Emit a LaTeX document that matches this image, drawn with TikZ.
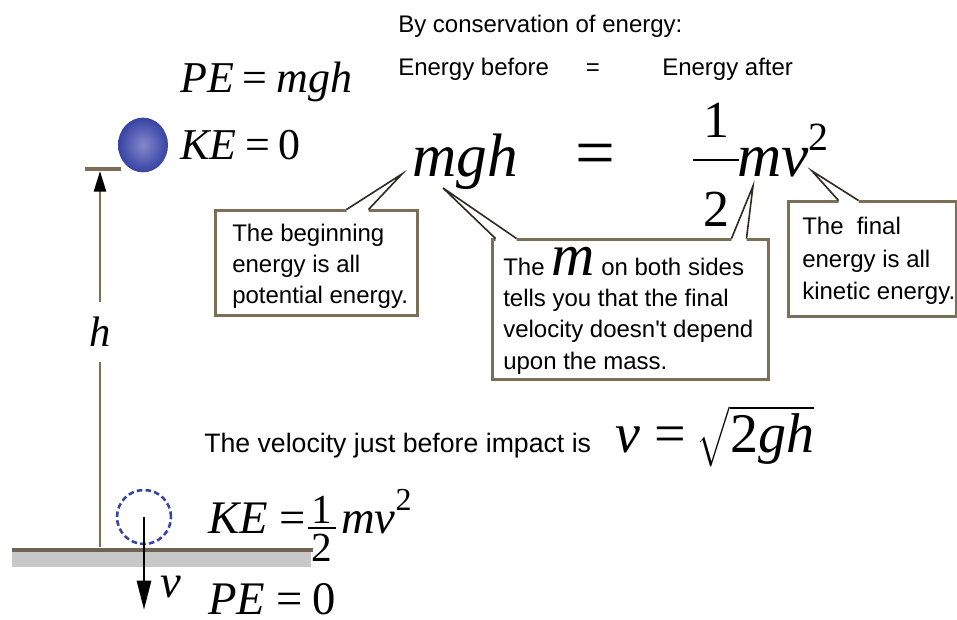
\documentclass[tikz,border=0pt]{standalone}
\usepackage{fontspec}
\usepackage{amsmath}
\setmainfont{Liberation Serif}
\newfontfamily\arial{Liberation Sans}
\usetikzlibrary{arrows.meta,calc,shapes.geometric}
\definecolor{edge}{HTML}{7B6F58}
\definecolor{grounddark}{HTML}{6E6452}
\definecolor{ballblue}{HTML}{3743A3}
\definecolor{balllight}{HTML}{8488CC}
\definecolor{groundgray}{HTML}{C8C8C8}
\definecolor{calline}{HTML}{2E2A22}
\newcommand\fsz[1]{\fontsize{#1}{#1}\selectfont}
\begin{document}
\begin{tikzpicture}[x=0.75pt,y=-0.75pt,
  lbl/.style={anchor=base west, inner sep=0, font=\arial\fsz{18}},
  bigl/.style={anchor=base west, inner sep=0, font=\arial\fsz{20}},
  eqn/.style={anchor=base west, inner sep=0, font=\fsz{33}},
  eqnb/.style={anchor=base west, inner sep=0, font=\fsz{35}},
  huge/.style={anchor=base west, inner sep=0, font=\fsz{46}},
  digit/.style={anchor=base, inner sep=0},
  fracbar/.style={draw=black, line width=1.8pt},
  boxnode/.style={draw=edge, line width=2.25pt, inner sep=0, fill=white, rectangle},
  callout/.style={draw=calline, line width=1.2pt, line join=miter},
  hline/.style={draw=edge, line width=1.9pt}]
\useasboundingbox (0,0) rectangle (957,620);
\fill[white] (0,0) rectangle (957,620);

% header texts
\node[lbl] (title) at (398,33) {By conservation of energy:};
\node[lbl] (ebefore) at (398,76) {Energy before};
\node[lbl, anchor=base] (eeq) at (593,76) {=};
\node[lbl] (eafter) at (662,76) {Energy after};

% top equations
\node[eqn] (pe1) at (180,93) {\textit{PE}\hspace{0.2em}=\hspace{0.2em}\textit{mgh}};
\node[eqn] (ke1) at (180,160) {\textit{KE}\hspace{0.2em}=\hspace{0.2em}0};

% ball and height
\node[ellipse, shade, inner color=balllight, outer color=ballblue, minimum width=37.5pt, minimum height=41pt, inner sep=0] (ball) at (143,145) {};
\coordinate (tickL) at (85,169);
\coordinate (tickR) at (121,169);
\draw[edge, line width=3.5pt] (tickL) -- (tickR);
\node[font=\fsz{32}\itshape, minimum height=45pt, inner sep=0] (hl) at (100,332) {h};
\coordinate (hbase) at (100,547);
\coordinate (htop) at (100,171);
\draw[hline] (hbase) -- (hl.south);
\draw[hline, -{Triangle[length=15.5pt,width=9pt,color=black]}] (hl.north) -- (htop);

% ground
\coordinate (g1) at (12,550);
\coordinate (g2) at (313,550);
\fill[groundgray] (12,552) rectangle (311,567);
\draw[grounddark, line width=3pt] (g1) -- (g2);

% ghost ball and velocity arrow
\node[circle, draw=ballblue, line width=1.9pt, dash pattern=on 4.2pt off 2.4pt, minimum size=40.5pt, inner sep=0] (ghost) at (144,517) {};
\coordinate (vtip) at (144,610);
\draw[black, line width=2.2pt, -{Triangle[length=22pt,width=10.5pt]}] (ghost.center) -- (vtip);
\node[eqnb] (vlbl) at (160,597) {\textit{v}};

% bottom equations
\node[eqnb] (ke2) at (208,533) {\textit{KE}\hspace{0.25em}=};
\node[digit, font=\fsz{31}] (kn) at (322,523) {1};
\coordinate (kbl) at (308,528);
\coordinate (kbr) at (336,528);
\draw[fracbar, line width=1.5pt] (kbl) -- (kbr);
\node[digit, font=\fsz{31}] (kd) at (322,561) {2};
\node[eqnb] (kmv) at (341,533) {\textit{mv}\raisebox{17pt}{\fsz{24}2}};
\node[eqnb] (pe2) at (208,614) {\textit{PE}\hspace{0.25em}=\hspace{0.2em}0};

% main equation
\node[huge] (mgh) at (412,177) {\textit{mgh}};
\node[anchor=base, inner sep=0, font=\fsz{53}] (meq) at (595,177) {=};
\node[digit, font=\fsz{39}] (hn) at (716,138) {1};
\coordinate (hbl) at (693,160);
\coordinate (hbr) at (739,160);
\draw[fracbar] (hbl) -- (hbr);
\node[digit, font=\fsz{39}] (hd) at (716,227) {2};
\node[huge] (mv) at (737,177) {\textit{mv}\raisebox{20pt}{\fsz{30}2}};

% boxes
\node[boxnode, minimum width=151.5pt, minimum height=78.75pt] (b1) at (316,263.5) {};
\node[boxnode, minimum width=207pt, minimum height=104.25pt] (b2) at (630,309.5) {};
\node[boxnode, minimum width=126pt, minimum height=86.25pt] (b3) at (872,259.5) {};

% callouts
\coordinate (t1) at (402,174);
\coordinate (w1a) at ($(b1.north west)+(133,0)$);
\coordinate (w1b) at ($(b1.north west)+(155,0)$);
\coordinate (t2) at (443,188);
\coordinate (w2a) at ($(b2.north west)+(5,0)$);
\coordinate (w2b) at ($(b2.north west)+(26,0)$);
\coordinate (t3) at (753,186);
\coordinate (w3a) at ($(b2.north west)+(241,0)$);
\coordinate (w3b) at ($(b2.north west)+(256,0)$);
\coordinate (t4) at (812,171);
\coordinate (w4a) at ($(b3.north west)+(52,0)$);
\coordinate (w4b) at ($(b3.north west)+(72,0)$);
\foreach \t/\a/\b in {t1/w1a/w1b, t2/w2a/w2b, t3/w3a/w3b, t4/w4a/w4b}{
  \fill[white] ($(\a)+(0,2.5)$) -- ($(\a)+(0,-2.5)$) -- (\t) -- ($(\b)+(0,-2.5)$) -- ($(\b)+(0,2.5)$) -- cycle;
  \draw[callout] (\a) -- (\t) -- (\b);
}

% box texts
\node[lbl] (b1l1) at (232,242) {The beginning};
\node[lbl] (b1l2) at (232,273) {energy is all};
\node[lbl] (b1l3) at (232,304) {potential energy.};
\node[lbl] (b2l1) at (503,276) {The {\rmfamily\itshape\fsz{45}m} on both sides};
\node[lbl] (b2l2) at (503,307) {tells you that the final};
\node[lbl] (b2l3) at (503,338) {velocity doesn't depend};
\node[lbl] (b2l4) at (503,369) {upon the mass.};
\node[lbl] (b3l1) at (802,235) {The\hspace{0.55em}final};
\node[lbl] (b3l2) at (802,268) {energy is all};
\node[lbl] (b3l3) at (802,300) {kinetic energy.};

% velocity result
\node[bigl] (vtext) at (204,452) {The velocity just before impact is};
\node[anchor=base west, inner sep=0, font=\fsz{42}] (veq) at (615,452) {\textit{v}\hspace{0.25em}=\hspace{0.2em}$\sqrt{\text{2\textit{gh}}}$};
\end{tikzpicture}
\end{document}
